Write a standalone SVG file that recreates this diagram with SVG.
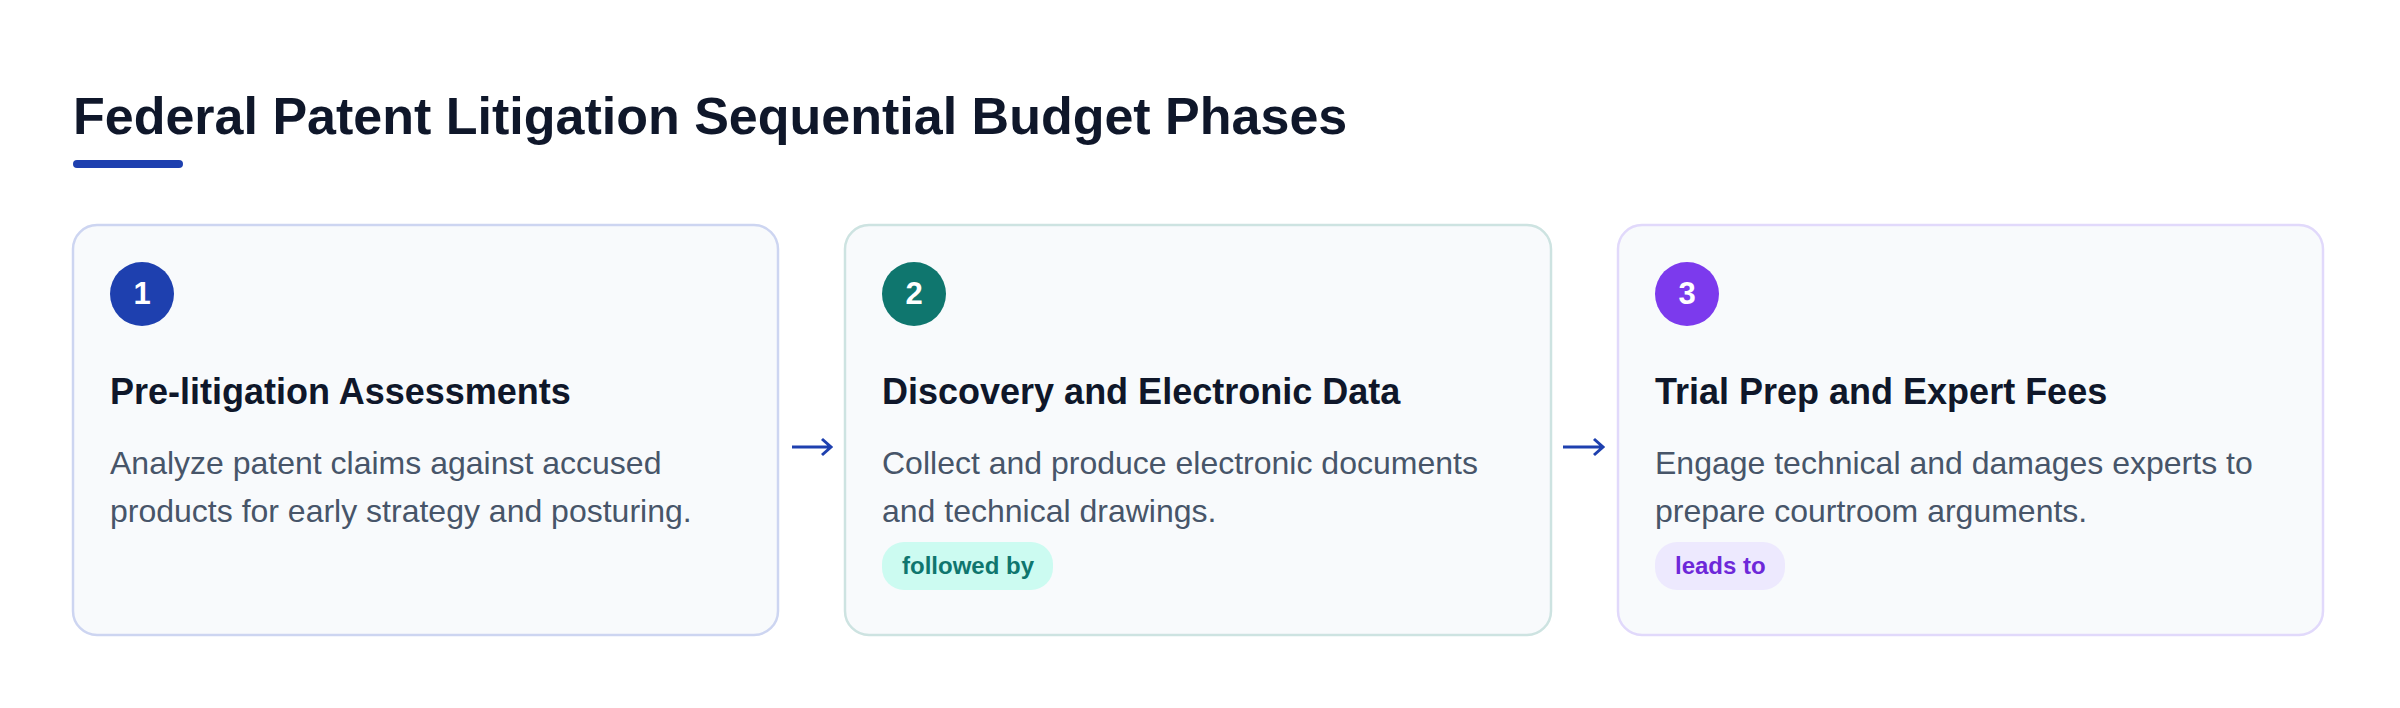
<svg xmlns="http://www.w3.org/2000/svg" width="2400" height="708" viewBox="0 0 2400 708">
<style>
.title{font-family:"Liberation Sans",Arial,sans-serif;font-weight:700;font-size:52px;fill:#0f172a}
.card{fill:#f8fafc;stroke-width:2.5}
.num{font-family:"Liberation Sans",Arial,sans-serif;font-weight:700;font-size:31px;fill:#ffffff;text-anchor:middle}
.head{font-family:"Liberation Sans",Arial,sans-serif;font-weight:700;font-size:36px;fill:#0f172a}
.desc{font-family:"Liberation Sans",Arial,sans-serif;font-size:32px;fill:#475569}
.badge{font-family:"Liberation Sans",Arial,sans-serif;font-weight:700;font-size:24px}
.arrow{fill:none;stroke:#1e40af;stroke-width:3;stroke-linecap:butt}
</style>
<rect width="2400" height="708" fill="#ffffff"/>
<g id="title">
<text class="title" x="73" y="134">Federal Patent Litigation Sequential Budget Phases</text>
<rect x="73" y="160" width="110" height="8" rx="4" fill="#1e40af"/>
</g>
<g id="node1">
<rect class="card" x="73" y="225" width="705" height="410" rx="24" stroke="#cdd5f1"/>
<circle cx="142" cy="294" r="32" fill="#1e40af"/>
<text class="num" x="142" y="304">1</text>
<text class="head" x="110" y="404">Pre-litigation Assessments</text>
<text class="desc" x="110" y="474">Analyze patent claims against accused</text>
<text class="desc" x="110" y="522">products for early strategy and posturing.</text>
</g>
<g id="node2">
<rect class="card" x="845" y="225" width="706" height="410" rx="24" stroke="#cde3e1"/>
<circle cx="914" cy="294" r="32" fill="#0f766e"/>
<text class="num" x="914" y="304">2</text>
<text class="head" x="882" y="404">Discovery and Electronic Data</text>
<text class="desc" x="882" y="474">Collect and produce electronic documents</text>
<text class="desc" x="882" y="522">and technical drawings.</text>
<rect x="882" y="542" width="171" height="48" rx="22" fill="#ccfbf1"/>
<text class="badge" x="902" y="574" fill="#0f766e">followed by</text>
</g>
<g id="node3">
<rect class="card" x="1618" y="225" width="705" height="410" rx="24" stroke="#e1d9fb"/>
<circle cx="1687" cy="294" r="32" fill="#7c3aed"/>
<text class="num" x="1687" y="304">3</text>
<text class="head" x="1655" y="404">Trial Prep and Expert Fees</text>
<text class="desc" x="1655" y="474">Engage technical and damages experts to</text>
<text class="desc" x="1655" y="522">prepare courtroom arguments.</text>
<rect x="1655" y="542" width="130" height="48" rx="22" fill="#ede9fe"/>
<text class="badge" x="1675" y="574" fill="#6d28d9">leads to</text>
</g>
<g id="connectors">
<path class="arrow" d="M792 447 H830 M822 439 L831 447 L822 455"/>
<path class="arrow" d="M1563 447 H1602 M1594 439 L1603 447 L1594 455"/>
</g>
</svg>
